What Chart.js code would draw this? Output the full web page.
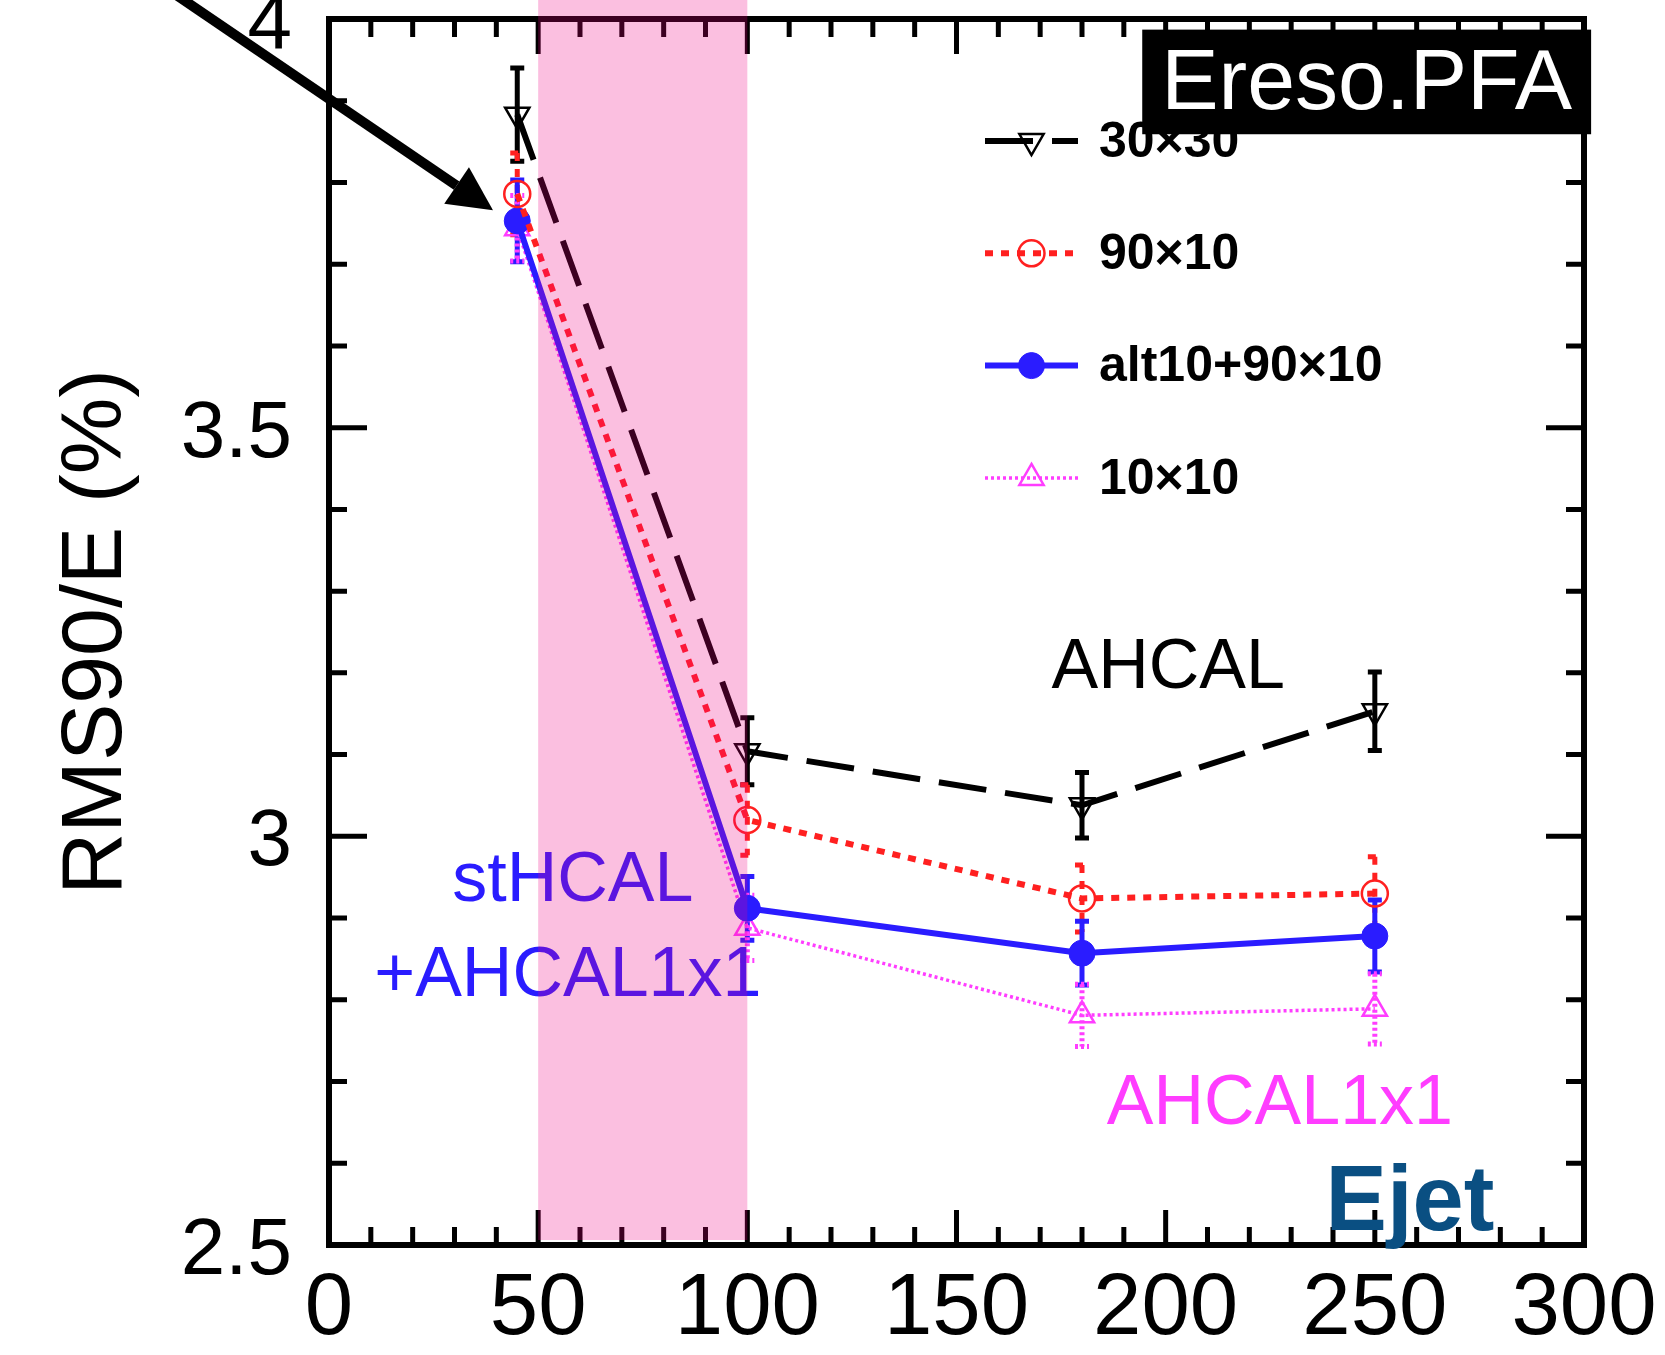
<!DOCTYPE html>
<html>
<head>
<meta charset="utf-8">
<script src="https://cdn.jsdelivr.net/npm/chart.js@4.4.1/dist/chart.umd.min.js"></script>
<style>
  html, body { margin: 0; padding: 0; background: #fff; }
</style>
</head>
<body>
<canvas id="chart" width="1665" height="1355"></canvas>
<script>
// beam energies (GeV) and RMS90/E (%) per cell option
var energies = [45, 100, 180, 250];
var seriesNames = ['30×30', '90×10', 'alt10+90×10', '10×10'];
var res30x30 = [3.883, 3.104, 3.038, 3.153];
var err30x30 = [0.057, 0.041, 0.040, 0.048];
var res90x10 = [3.786, 3.020, 2.924, 2.930];
var err90x10 = [0.050, 0.043, 0.041, 0.045];
var resAlt = [3.753, 2.912, 2.857, 2.878];
var errAlt = [0.050, 0.039, 0.039, 0.044];
var res10x10 = [3.744, 2.888, 2.781, 2.789];
var err10x10 = [0.040, 0.040, 0.038, 0.043];
var xRange = [0, 300];
var yRange = [2.5, 4];
var band = [50, 100];

function pts(ys) {
    return energies.map(function (e, i) { return { x: e, y: ys[i] }; });
}

var clear = 'rgba(0,0,0,0)';
var datasets = [
    { label: seriesNames[0], data: pts(res30x30), errors: err30x30, errDash: [],
      borderColor: '#000', borderWidth: 6, borderDash: [48, 19],
      pointStyle: 'triangle', pointRotation: 180, pointRadius: 14, pointBorderWidth: 2.5,
      pointBorderColor: '#000', pointBackgroundColor: clear },
    { label: seriesNames[1], data: pts(res90x10), errors: err90x10, errDash: [8, 8],
      borderColor: '#ff2020', borderWidth: 6, borderDash: [8, 8],
      pointStyle: 'circle', pointRadius: 13, pointBorderWidth: 2.5,
      pointBorderColor: '#ff2020', pointBackgroundColor: clear },
    { label: seriesNames[2], data: pts(resAlt), errors: errAlt, errDash: [],
      borderColor: '#2a1cff', borderWidth: 6,
      pointStyle: 'circle', pointRadius: 13, pointBorderWidth: 1,
      pointBorderColor: '#2a1cff', pointBackgroundColor: '#2a1cff' },
    { label: seriesNames[3], data: pts(res10x10), errors: err10x10, errDash: [3, 3],
      borderColor: '#ff3dff', borderWidth: 3.5, borderDash: [3, 3],
      pointStyle: 'triangle', pointRadius: 14, pointBorderWidth: 2.5,
      pointBorderColor: '#ff3dff', pointBackgroundColor: clear }
];

function drawMarker(ctx, ds, x, y) {
    ctx.save();
    ctx.setLineDash([]);
    ctx.fillStyle = ds.pointBackgroundColor;
    ctx.strokeStyle = ds.pointBorderColor;
    ctx.lineWidth = ds.pointBorderWidth;
    Chart.helpers.drawPoint(ctx, {
        pointStyle: ds.pointStyle, rotation: ds.pointRotation || 0,
        radius: ds.pointRadius, borderWidth: ds.pointBorderWidth
    }, x, y);
    ctx.restore();
}

var errorBars = {
    id: 'errorBars',
    beforeDatasetsDraw: function (chart) {
        var ctx = chart.ctx, xs = chart.scales.x, ys = chart.scales.y;
        chart.data.datasets.forEach(function (ds) {
            ctx.save();
            ctx.strokeStyle = ds.borderColor;
            ctx.lineWidth = 5;
            ctx.setLineDash(ds.errDash);
            ds.data.forEach(function (p, i) {
                var x = xs.getPixelForValue(p.x);
                var y1 = ys.getPixelForValue(p.y + ds.errors[i]);
                var y2 = ys.getPixelForValue(p.y - ds.errors[i]);
                ctx.beginPath();
                ctx.moveTo(x, y1); ctx.lineTo(x, y2);
                ctx.moveTo(x - 7, y1); ctx.lineTo(x + 7, y1);
                ctx.moveTo(x - 7, y2); ctx.lineTo(x + 7, y2);
                ctx.stroke();
            });
            ctx.restore();
        });
    }
};

var decorations = {
    id: 'decorations',
    afterDraw: function (chart) {
        var ctx = chart.ctx, a = chart.chartArea;
        var xs = chart.scales.x, ys = chart.scales.y;
        ctx.save();

        // inward ticks on all four sides
        ctx.strokeStyle = '#000';
        ctx.lineWidth = 5;
        ctx.beginPath();
        for (var v = 0; v <= 300; v += 10) {
            var px = xs.getPixelForValue(v);
            var len = (v % 50 === 0) ? 35 : 18;
            ctx.moveTo(px, a.bottom); ctx.lineTo(px, a.bottom - len);
            ctx.moveTo(px, a.top); ctx.lineTo(px, a.top + len);
        }
        for (var k = 25; k <= 40; k++) {
            var py = ys.getPixelForValue(k / 10);
            var l2 = (k % 5 === 0) ? 38 : 18;
            ctx.moveTo(a.left, py); ctx.lineTo(a.left + l2, py);
            ctx.moveTo(a.right, py); ctx.lineTo(a.right - l2, py);
        }
        ctx.stroke();
        ctx.lineWidth = 6;
        ctx.strokeRect(a.left, a.top, a.right - a.left, a.bottom - a.top);

        // legend
        chart.data.datasets.forEach(function (ds, i) {
            var ly = a.top + 122 + i * 112.3;
            var lx0 = a.left + 656, lx1 = a.left + 749;
            ctx.save();
            ctx.strokeStyle = ds.borderColor;
            ctx.lineWidth = ds.borderWidth;
            ctx.setLineDash(ds.borderDash || []);
            ctx.beginPath();
            ctx.moveTo(lx0, ly); ctx.lineTo(lx1, ly);
            ctx.stroke();
            ctx.restore();
            drawMarker(ctx, ds, (lx0 + lx1) / 2, ly);
            ctx.fillStyle = '#000';
            ctx.font = 'bold 50px "Liberation Sans", Arial, sans-serif';
            ctx.textAlign = 'left';
            ctx.textBaseline = 'middle';
            ctx.fillText(ds.label, a.left + 770, ly + 2);
        });

        // text annotations placed in data coordinates
        var notes = [
            { t: 'AHCAL', x: 200.6, y: 3.205, c: '#000' },
            { t: 'stHCAL', x: 58.3, y: 2.945, c: '#2a1cff' },
            { t: '+AHCAL1x1', x: 57.1, y: 2.828, c: '#2a1cff' },
            { t: 'AHCAL1x1', x: 227.3, y: 2.672, c: '#ff3dff' }
        ];
        ctx.font = '70px "Liberation Sans", Arial, sans-serif';
        ctx.textAlign = 'center';
        ctx.textBaseline = 'middle';
        notes.forEach(function (n) {
            ctx.fillStyle = n.c;
            ctx.fillText(n.t, xs.getPixelForValue(n.x), ys.getPixelForValue(n.y));
        });

        ctx.fillStyle = '#0a4f82';
        ctx.font = 'bold 92px "Liberation Sans", Arial, sans-serif';
        ctx.textBaseline = 'alphabetic';
        ctx.fillText('Ejet', xs.getPixelForValue(258.4), ys.getPixelForValue(2.518));

        // Ereso.PFA box
        var bx0 = xs.getPixelForValue(194.4), bx1 = xs.getPixelForValue(301.7);
        var by0 = ys.getPixelForValue(3.987), by1 = ys.getPixelForValue(3.859);
        ctx.fillStyle = '#000';
        ctx.fillRect(bx0, by0, bx1 - bx0, by1 - by0);
        ctx.fillStyle = '#fff';
        ctx.font = '86px "Liberation Sans", Arial, sans-serif';
        ctx.textBaseline = 'middle';
        ctx.fillText('Ereso.PFA', (bx0 + bx1) / 2, (by0 + by1) / 2 + 3);

        // arrow pointing at the 45 GeV points
        var sx = xs.getPixelForValue(-41), sy = ys.getPixelForValue(4.045);
        var tx = xs.getPixelForValue(39.2), ty = ys.getPixelForValue(3.766);
        var ang = Math.atan2(ty - sy, tx - sx);
        var hl = 44, hw = 22;
        var bxp = tx - hl * Math.cos(ang), byp = ty - hl * Math.sin(ang);
        ctx.strokeStyle = '#000';
        ctx.lineWidth = 10;
        ctx.beginPath();
        ctx.moveTo(sx, sy); ctx.lineTo(bxp, byp);
        ctx.stroke();
        ctx.fillStyle = '#000';
        ctx.beginPath();
        ctx.moveTo(tx, ty);
        ctx.lineTo(bxp + hw * Math.sin(ang), byp - hw * Math.cos(ang));
        ctx.lineTo(bxp - hw * Math.sin(ang), byp + hw * Math.cos(ang));
        ctx.closePath();
        ctx.fill();

        // translucent pink band over 50-100 GeV
        var b0 = xs.getPixelForValue(band[0]), b1 = xs.getPixelForValue(band[1]);
        ctx.fillStyle = 'rgba(240, 0, 130, 0.25)';
        ctx.fillRect(b0, 0, b1 - b0, a.bottom - 5);
        ctx.restore();
    }
};

new Chart(document.getElementById('chart'), {
    type: 'line',
    data: { datasets: datasets },
    options: {
        responsive: false,
        animation: false,
        devicePixelRatio: 1,
        layout: { padding: { top: 19, right: 81, left: 0, bottom: 0 } },
        plugins: { legend: { display: false }, tooltip: { enabled: false } },
        scales: {
            x: {
                type: 'linear', min: xRange[0], max: xRange[1],
                grid: { display: false, drawTicks: false },
                border: { display: false },
                ticks: {
                    stepSize: 50, padding: 13, maxRotation: 0, autoSkip: false, color: '#000',
                    font: { family: '"Liberation Sans Narrow", "Liberation Sans", Arial', size: 87 }
                },
                afterFit: function (s) { s.height = 110; s.paddingLeft = 0; s.paddingRight = 0; }
            },
            y: {
                min: yRange[0], max: yRange[1],
                grid: { display: false, drawTicks: false },
                border: { display: false },
                ticks: {
                    stepSize: 0.5, padding: 37, labelOffset: 7, color: '#000',
                    font: { family: '"Liberation Sans", Arial', size: 80 },
                    callback: function (v) { return String(v); }
                },
                title: {
                    display: true, text: 'RMS90/E (%)', color: '#000',
                    font: { family: '"Liberation Sans", Arial', size: 86 },
                    padding: { top: 46, bottom: 0 }
                },
                afterFit: function (s) { s.width = 329; s.paddingTop = 0; s.paddingBottom = 0; }
            }
        }
    },
    plugins: [errorBars, decorations]
});
</script>
</body>
</html>
